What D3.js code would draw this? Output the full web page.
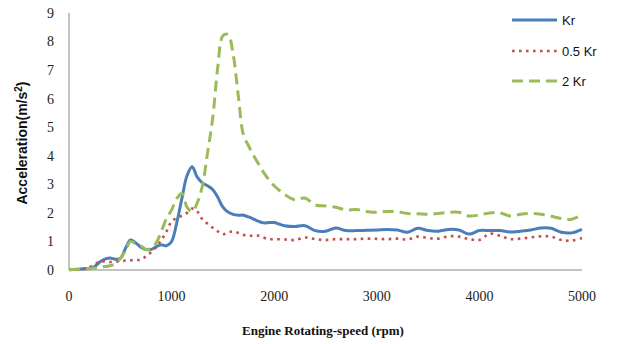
<!DOCTYPE html>
<html>
<head>
<meta charset="utf-8">
<script src="https://d3js.org/d3.v7.min.js"></script>
<style>
    body { margin: 0; background: #fff; }
</style>
</head>
<body>
<svg width="617" height="344"></svg>
<script>
    // rpm grid (50 rpm up to 2000, then 100 rpm)
    const rpm = [0, 50, 100, 150, 200, 250, 300, 350, 400, 450, 500, 550, 600, 650, 700, 750, 800, 850, 900, 950,
        1000, 1050, 1100, 1150, 1200, 1250, 1300, 1350, 1400, 1450, 1500, 1550, 1600, 1650, 1700, 1750, 1800, 1850, 1900, 1950,
        2000, 2100, 2200, 2300, 2400, 2500, 2600, 2700, 2800, 2900, 3000, 3100, 3200, 3300, 3400, 3500, 3600, 3700, 3800, 3900,
        4000, 4100, 4200, 4300, 4400, 4500, 4600, 4700, 4800, 4900, 5000];

    const kr = [0.02, 0.02, 0.03, 0.04, 0.06, 0.12, 0.28, 0.38, 0.42, 0.38, 0.4, 0.75, 1.05, 0.95, 0.8, 0.72, 0.72, 0.82, 0.88, 0.85,
        1.0, 1.65, 2.5, 3.3, 3.62, 3.25, 3.05, 2.95, 2.82, 2.55, 2.2, 2.03, 1.95, 1.92, 1.92, 1.86, 1.78, 1.7, 1.65, 1.66,
        1.66, 1.55, 1.52, 1.55, 1.38, 1.36, 1.47, 1.38, 1.38, 1.39, 1.4, 1.42, 1.4, 1.32, 1.46, 1.38, 1.36, 1.42, 1.4, 1.26,
        1.38, 1.38, 1.38, 1.33, 1.36, 1.4, 1.47, 1.46, 1.32, 1.3, 1.42];

    const halfKr = [0, 0, 0.02, 0.05, 0.1, 0.2, 0.3, 0.3, 0.28, 0.3, 0.3, 0.33, 0.34, 0.35, 0.36, 0.48, 0.62, 0.8, 1.05, 1.35,
        1.7, 1.82, 1.9, 2.0, 2.15, 2.05, 1.78, 1.62, 1.48, 1.35, 1.25, 1.32, 1.35, 1.3, 1.23, 1.2, 1.2, 1.2, 1.13, 1.08,
        1.08, 1.07, 1.05, 1.14, 1.08, 1.05, 1.08, 1.08, 1.08, 1.1, 1.09, 1.08, 1.1, 1.07, 1.17, 1.12, 1.1, 1.18, 1.17, 1.08,
        1.05, 1.27, 1.2, 1.08, 1.1, 1.14, 1.18, 1.17, 1.05, 1.03, 1.12];

    const twoKr = [0.02, 0.02, 0.03, 0.04, 0.05, 0.07, 0.1, 0.12, 0.15, 0.22, 0.4, 0.68, 1.0, 0.92, 0.85, 0.72, 0.75, 0.95, 1.35, 1.8,
        2.1, 2.5, 2.68, 2.2, 2.05, 2.35, 2.95, 4.1, 5.3, 7.1, 8.2, 8.25, 7.55, 6.1, 4.73, 4.35, 4.0, 3.7, 3.4, 3.15,
        2.95, 2.65, 2.46, 2.52, 2.28, 2.24, 2.2, 2.1, 2.12, 2.05, 2.02, 2.05, 2.04, 1.98, 1.97, 1.95, 1.98, 2.02, 2.02, 1.89,
        1.93, 2.0, 2.0, 1.89, 1.95, 1.98, 1.95, 1.88, 1.8, 1.78, 1.93];

    const xTicks = [0, 1000, 2000, 3000, 4000, 5000];
    const yTicks = [0, 1, 2, 3, 4, 5, 6, 7, 8, 9];

    const series = [
        { name: "Kr", values: kr, color: "#4a7ebb", width: 3, dash: null, ly: 20 },
        { name: "0.5 Kr", values: halfKr, color: "#c0504d", width: 2.6, dash: "2.6 4.4", ly: 51 },
        { name: "2 Kr", values: twoKr, color: "#9bbb59", width: 3, dash: "11 6", ly: 81 }
    ];

    const svg = d3.select("svg");
    const plotL = 69, plotR = 582, plotT = 13, plotB = 270;

    const x = d3.scaleLinear().domain([0, 5000]).range([plotL, plotR]);
    const y = d3.scaleLinear().domain([0, 9]).range([plotB, plotT]);

    // axis lines
    svg.append("line")
        .attr("x1", plotL).attr("x2", plotL).attr("y1", plotT).attr("y2", plotB)
        .attr("stroke", "#868686").attr("stroke-width", 1);
    svg.append("line")
        .attr("x1", plotL).attr("x2", plotR).attr("y1", plotB).attr("y2", plotB)
        .attr("stroke", "#868686").attr("stroke-width", 1);

    // tick labels
    svg.append("g").selectAll("text")
        .data(yTicks)
        .join("text")
        .attr("x", 54)
        .attr("y", d => y(d))
        .attr("dy", "0.35em")
        .attr("text-anchor", "end")
        .attr("font-family", "Liberation Serif")
        .attr("font-size", 14)
        .attr("fill", "#222")
        .text(d => d);

    svg.append("g").selectAll("text")
        .data(xTicks)
        .join("text")
        .attr("x", d => x(d))
        .attr("y", 296)
        .attr("dy", "0.35em")
        .attr("text-anchor", "middle")
        .attr("font-family", "Liberation Serif")
        .attr("font-size", 14)
        .attr("fill", "#222")
        .text(d => d);

    // axis titles
    svg.append("text")
        .attr("transform", "translate(27,143) rotate(-90)")
        .attr("text-anchor", "middle")
        .attr("font-family", "Liberation Sans")
        .attr("font-weight", "bold")
        .attr("font-size", 14)
        .attr("fill", "#111")
        .html("Acceleration(m/s<tspan dy='-5' font-size='10'>2</tspan><tspan dy='5'>)</tspan>");

    svg.append("text")
        .attr("x", 323)
        .attr("y", 330)
        .attr("dy", "0.35em")
        .attr("text-anchor", "middle")
        .attr("font-family", "Liberation Serif")
        .attr("font-weight", "bold")
        .attr("font-size", 13)
        .attr("fill", "#111")
        .text("Engine Rotating-speed (rpm)");

    // lines
    const line = d3.line()
        .x((d, i) => x(rpm[i]))
        .y(d => y(d))
        .curve(d3.curveCatmullRom.alpha(0.5));

    svg.append("g").selectAll("path")
        .data(series)
        .join("path")
        .attr("d", d => line(d.values))
        .attr("fill", "none")
        .attr("stroke", d => d.color)
        .attr("stroke-width", d => d.width)
        .attr("stroke-dasharray", d => d.dash)
        .attr("stroke-linejoin", "round");

    // legend
    const legend = svg.append("g").selectAll("g")
        .data(series)
        .join("g");
    legend.append("line")
        .attr("x1", 512).attr("x2", 557)
        .attr("y1", d => d.ly).attr("y2", d => d.ly)
        .attr("stroke", d => d.color)
        .attr("stroke-width", d => d.width)
        .attr("stroke-dasharray", d => d.dash);
    legend.append("text")
        .attr("x", 562)
        .attr("y", d => d.ly)
        .attr("dy", "0.35em")
        .attr("font-family", "Liberation Sans")
        .attr("font-size", 13)
        .attr("fill", "#111")
        .text(d => d.name);
</script>
</body>
</html>
